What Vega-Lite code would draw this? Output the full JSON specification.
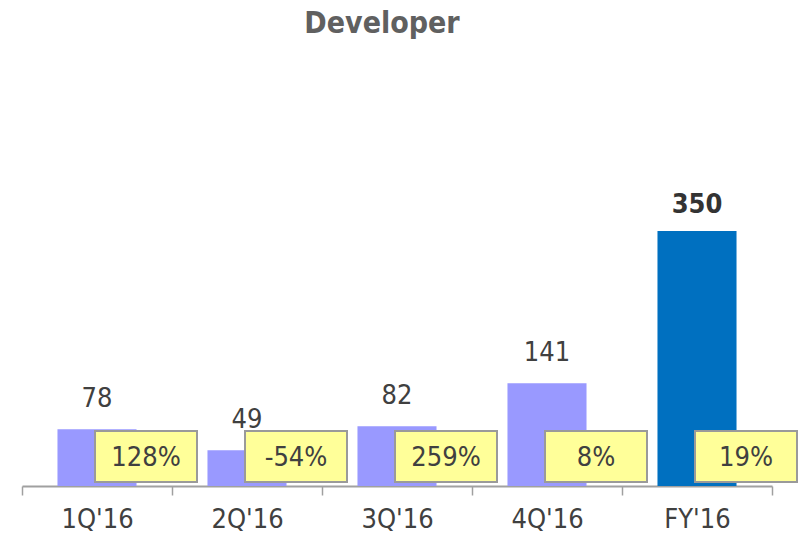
{
  "$schema": "https://vega.github.io/schema/vega-lite/v6.json",
  "autosize": "none",
  "width": 750,
  "height": 437,
  "padding": {"left": 22, "top": 49, "right": 32, "bottom": 56},
  "background": "white",
  "config": {"view": {"stroke": null}, "font": "DejaVu Sans Condensed, DejaVu Sans"},
  "title": {
    "text": "Developer",
    "fontSize": 30,
    "fontWeight": "bold",
    "color": "#606060",
    "font": "DejaVu Sans Condensed, DejaVu Sans",
    "anchor": "middle",
    "dx": -15,
    "offset": 10
  },
  "data": {
    "values": [
      {"period": "1Q'16", "value": 78, "growth": "128%", "kind": "Quarter"},
      {"period": "2Q'16", "value": 49, "growth": "-54%", "kind": "Quarter"},
      {"period": "3Q'16", "value": 82, "growth": "259%", "kind": "Quarter"},
      {"period": "4Q'16", "value": 141, "growth": "8%", "kind": "Quarter"},
      {"period": "FY'16", "value": 350, "growth": "19%", "kind": "Full year"}
    ]
  },
  "encoding": {
    "x": {
      "field": "period",
      "type": "nominal",
      "sort": null,
      "scale": {"paddingInner": 0, "paddingOuter": 0},
      "axis": {
        "title": null,
        "labelAngle": 0,
        "labelFontSize": 27,
        "labelColor": "#404040",
        "labelPadding": 11,
        "domainColor": "#a0a0a0",
        "domainWidth": 2,
        "tickColor": "#a0a0a0",
        "tickWidth": 1.5,
        "tickSize": 9,
        "tickBand": "extent"
      }
    }
  },
  "layer": [
    {
      "mark": {"type": "bar", "width": {"band": 0.527}},
      "encoding": {
        "y": {"field": "value", "type": "quantitative", "scale": {"domain": [0, 600], "nice": false}, "axis": null},
        "color": {"field": "kind", "type": "nominal", "scale": {"domain": ["Quarter", "Full year"], "range": ["#9999FF", "#0070C0"]}, "legend": null}
      }
    },
    {
      "transform": [{"filter": "datum.kind === 'Quarter'"}],
      "mark": {"type": "text", "fontSize": 27, "color": "#404040", "baseline": "alphabetic", "dy": -22},
      "encoding": {
        "y": {"field": "value", "type": "quantitative"},
        "text": {"field": "value", "type": "quantitative"}
      }
    },
    {
      "transform": [{"filter": "datum.kind === 'Full year'"}],
      "mark": {"type": "text", "fontSize": 27, "fontWeight": "bold", "color": "#333333", "baseline": "alphabetic", "dy": -18},
      "encoding": {
        "y": {"field": "value", "type": "quantitative"},
        "text": {"field": "value", "type": "quantitative"}
      }
    },
    {
      "mark": {"type": "bar", "width": {"band": 0.68}, "xOffset": 49, "fill": "#FFFF99", "stroke": "#9a9a9a", "strokeWidth": 2},
      "encoding": {
        "y": {"datum": 5.5},
        "y2": {"datum": 75.5}
      }
    },
    {
      "mark": {"type": "text", "fontSize": 27, "color": "#404040", "baseline": "middle", "xOffset": 49},
      "encoding": {
        "y": {"datum": 39},
        "text": {"field": "growth", "type": "nominal"}
      }
    }
  ]
}
